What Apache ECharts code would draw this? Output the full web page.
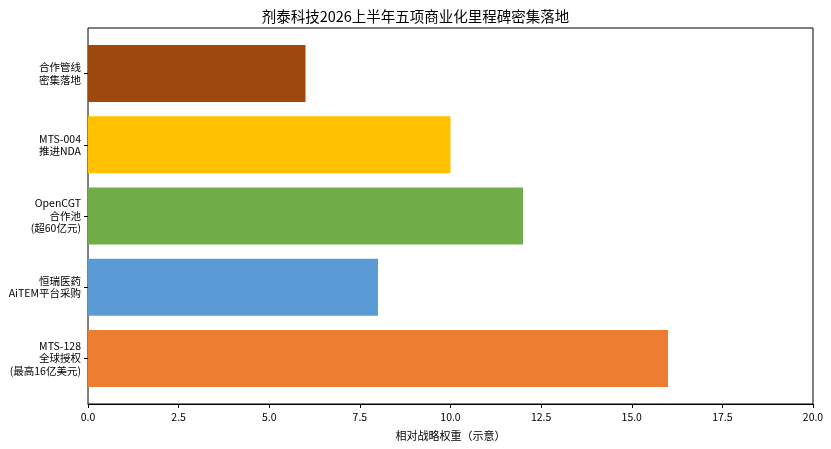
<!DOCTYPE html>
<html><head><meta charset="utf-8">
<script src="https://cdn.jsdelivr.net/npm/echarts@6/dist/echarts.min.js"></script>
<style>html,body{margin:0;padding:0;background:#fff}#c{width:831px;height:449px}</style>
</head><body><div id="c"></div>
<script>
var categories = ['MTS-128\n全球授权\n(最高16亿美元)', '恒瑞医药\nAiTEM平台采购', 'OpenCGT\n合作池\n(超60亿元)', 'MTS-004\n推进NDA', '合作管线\n密集落地'];
var values = [16, 8, 12, 10, 6];
var colors = ['#ED7D31', '#5B9BD5', '#70AD47', '#FFC000', '#9E480E'];
var xTicks = ['0.0','2.5','5.0','7.5','10.0','12.5','15.0','17.5','20.0'];
var font = '"Noto Sans CJK SC", "Noto Sans", sans-serif';
var chart = echarts.init(document.getElementById('c'));
var xBase = { type: 'value', min: 0, max: 20, interval: 2.5, splitLine: { show: false } };
chart.setOption({
  animation: false,
  title: { text: '剂泰科技2026上半年五项商业化里程碑密集落地', left: 'center', top: 4,
    textStyle: { fontFamily: font, fontSize: 14.5, fontWeight: 'normal', color: '#000' } },
  grid: [
    { left: 88, right: 18, top: 38, bottom: 55, show: false },
    { left: 88, right: 18, top: 28, bottom: 45, show: true, borderColor: '#000', borderWidth: 1 }
  ],
  xAxis: [
    Object.assign({}, xBase, { gridIndex: 0, show: false }),
    Object.assign({}, xBase, { gridIndex: 1,
      name: '相对战略权重（示意）', nameLocation: 'middle', nameGap: 26,
      nameTextStyle: { fontFamily: font, fontSize: 11, color: '#000' },
      axisLine: { show: true, lineStyle: { color: '#000' } },
      axisTick: { show: true, length: 4, lineStyle: { color: '#000' } },
      axisLabel: { fontFamily: font, fontSize: 10.5, color: '#000', margin: 8,
        formatter: function (v) { var i = Math.round(v / 2.5); return xTicks[i] !== undefined ? xTicks[i] : v; } } })
  ],
  yAxis: [
    { type: 'category', data: categories, gridIndex: 0,
      axisLine: { show: false },
      axisTick: { show: true, alignWithLabel: true, length: 4, lineStyle: { color: '#000' } },
      axisLabel: { fontFamily: font, fontSize: 10.5, color: '#000', lineHeight: 12.5, align: 'right', margin: 7 } },
    { type: 'value', gridIndex: 1, show: false }
  ],
  series: [{ type: 'bar', xAxisIndex: 0, yAxisIndex: 0, barCategoryGap: '20%',
    data: values.map(function (v, i) { return { value: v, itemStyle: { color: colors[i] } }; }) }]
});
</script></body></html>
